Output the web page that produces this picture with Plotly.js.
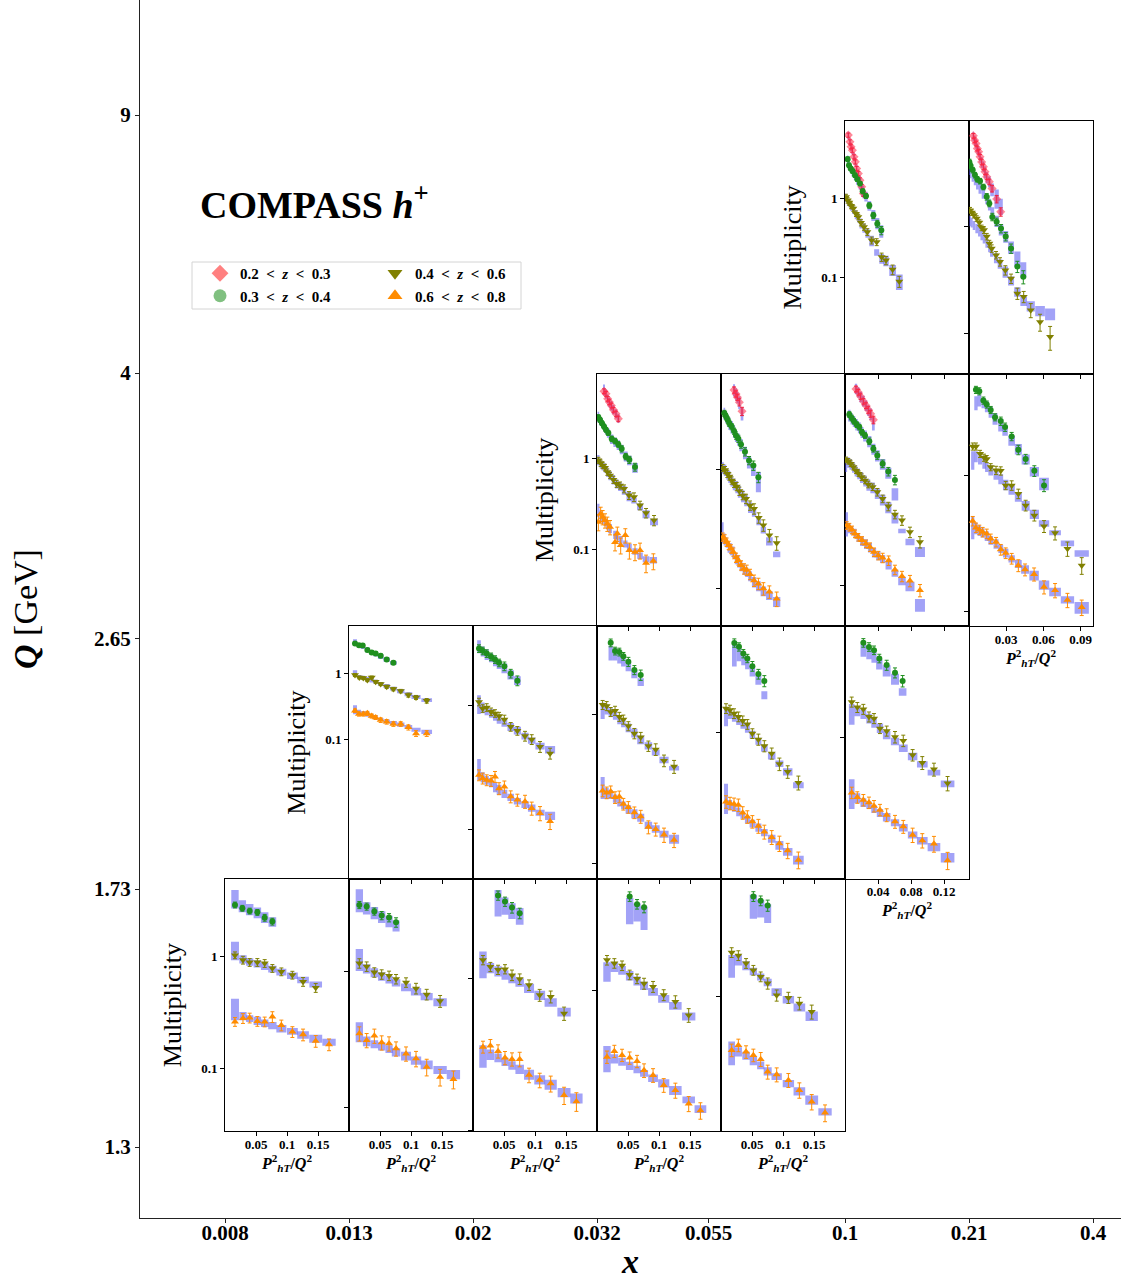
<!DOCTYPE html>
<html><head><meta charset="utf-8">
<script src="https://cdn.plot.ly/plotly-3.0.1.min.js"></script>
<style>body{margin:0;background:#fff}#chart{width:1121px;height:1284px}</style>
</head><body><div id="chart"></div>
<script>
// Outer axis tick labels
const xBinLabels = ['0.008','0.013','0.02','0.032','0.055','0.1','0.21','0.4'];
const xBinPos = [0,1,2,3,3.9,5,6,7];
const qLabels = ['1.3','1.73','2.65','4','9'];
const qPos = [0,1,1.97,3,4];
const zLabels = {red:'0.2 &lt; <i>z</i> &lt; 0.3', green:'0.3 &lt; <i>z</i> &lt; 0.4', olive:'0.4 &lt; <i>z</i> &lt; 0.6', orange:'0.6 &lt; <i>z</i> &lt; 0.8'};

// Each point: [P_hT^2/Q^2, multiplicity, error %, band low, band high]
const p15_red = [[.0040,6.34,6,5.6,7.0],[.0060,5.21,6,4.6,5.8],[.0073,4.51,6,4.0,5.0],[.0089,4.09,6,3.6,4.5],[.0109,3.37,6,3.0,3.8],[.0125,2.91,6,2.6,3.3],[.0141,2.40,6,2.1,2.7],[.0161,2.07,6,1.8,2.3],[.0181,1.71,7,1.5,1.95],[.0202,1.41,7,1.25,1.65],[.0222,1.16,8,1.0,1.35]];
const p15_green = [[.0032,3.15,7,2.7,3.5],[.0048,2.64,6,2.3,2.9],[.0069,2.40,6,2.1,2.7],[.0093,2.22,6,1.9,2.5],[.0121,1.97,6,1.7,2.2],[.0149,1.76,6,1.5,2.0],[.0181,1.55,6,1.3,1.8],[.0214,1.24,7,1.05,1.45],[.0254,1.08,7,0.92,1.22],[.0294,0.82,8,0.7,0.93],[.0343,0.615,9,0.52,0.72],[.0391,0.483,10,0.41,0.57],[.0439,0.397,12,0.32,0.46]];
const p15_olive = [[.0012,1.05,8,0.9,1.15],[.0032,0.95,8,0.82,1.05],[.0052,0.89,8,0.78,0.98],[.0073,0.81,8,0.7,0.9],[.0101,0.75,8,0.64,0.83],[.0133,0.646,8,0.55,0.72],[.0161,0.586,8,0.5,0.65],[.0193,0.497,9,0.42,0.56],[.023,0.438,9,0.37,0.49],[.027,0.379,10,0.32,0.42],[.0322,0.297,10,0.25,0.34],[.0383,0.283,10,0.19,0.23],[.0443,0.183,12,0.15,0.2],[.0496,0.166,12,0.14,0.19],[.0576,0.127,14,0.105,0.145],[.0657,0.09,16,0.07,0.11]];

const p16_red = [[.0035,6.95,5,6.2,7.6],[.0046,6.32,5,5.6,7.0],[.0057,5.89,5,5.2,6.5],[.0067,5.29,5,4.7,5.9],[.0078,4.93,5,4.4,5.5],[.0089,4.43,5,3.9,4.9],[.0102,3.97,6,3.5,4.4],[.0116,3.57,6,3.2,4.0],[.0129,3.21,6,2.8,3.6],[.0143,2.88,6,2.5,3.2],[.0164,2.59,6,2.3,2.9],[.0186,2.24,7,1.9,2.5],[.0223,1.79,8,1.45,2.2],[.0256,1.36,9,1.27,1.8]];
const p16_green = [[.0003,3.97,6,3.0,3.9],[.0013,3.65,6,2.8,3.6],[.003,3.33,6,2.6,3.3],[.0048,2.99,6,2.4,3.0],[.0067,2.74,6,2.2,2.8],[.0089,2.63,6,2.0,2.6],[.0116,2.32,6,1.8,2.3],[.0143,1.88,7,1.6,2.0],[.0164,1.63,7,1.4,1.8],[.0188,1.22,8,1.15,1.5],[.0223,1.10,8,0.98,1.25],[.0258,0.95,9,0.82,1.05],[.0296,0.80,9,0.7,0.9],[.0339,0.62,10,0.55,0.72],[.039,0.42,12,0.42,0.58],[.0438,0.337,14,0.33,0.46]];
const p16_olive = [[.0008,1.41,6,1.0,1.25],[.0022,1.34,6,0.97,1.2],[.004,1.27,6,0.92,1.12],[.0062,1.18,6,0.86,1.05],[.0083,1.08,6,0.8,0.98],[.0102,0.965,6,0.74,0.9],[.0121,0.92,7,0.69,0.84],[.0143,0.80,7,0.63,0.77],[.0164,0.69,7,0.57,0.7],[.0183,0.62,8,0.52,0.64],[.0218,0.537,8,0.45,0.56],[.025,0.466,9,0.4,0.49],[.0293,0.389,10,0.33,0.42],[.0339,0.325,10,0.28,0.34],[.039,0.236,12,0.22,0.27],[.0441,0.22,12,0.18,0.22],[.0498,0.165,15,0.16,0.2],[.0573,0.128,18,0.145,0.18],[.0654,0.093,25,0.133,0.171]];

const p23_red = [[.0113,5.57,6,5.0,6.6],[.0145,5.21,6,4.6,5.8],[.0172,4.59,6,4.1,5.1],[.0199,4.22,6,3.7,4.7],[.0231,3.87,6,3.4,4.3],[.0264,3.47,6,3.1,3.9],[.0307,3.13,7,2.8,3.5],[.0344,2.76,7,2.5,3.1]];
const p23_green = [[.0022,2.88,6,2.5,3.3],[.0048,2.69,6,2.35,3.0],[.0081,2.47,6,2.2,2.8],[.0113,2.27,6,2.0,2.55],[.0145,2.09,6,1.85,2.35],[.0183,1.92,6,1.7,2.15],[.0237,1.66,7,1.45,1.85],[.0291,1.57,7,1.35,1.72],[.0344,1.44,7,1.25,1.6],[.0398,1.29,8,1.12,1.43],[.0463,1.06,8,0.93,1.2],[.0522,0.975,9,0.85,1.08],[.0613,0.81,10,0.7,0.9]];
const p23_olive = [[.0022,0.96,8,0.85,1.1],[.0059,0.895,8,0.78,1.0],[.0091,0.844,8,0.74,0.94],[.0129,0.796,8,0.7,0.89],[.0167,0.713,8,0.63,0.8],[.021,0.655,8,0.58,0.73],[.0264,0.587,9,0.52,0.66],[.0317,0.53,9,0.47,0.59],[.0371,0.508,9,0.44,0.55],[.0436,0.467,10,0.4,0.5],[.0516,0.394,10,0.34,0.43],[.0597,0.378,11,0.32,0.37],[.0694,0.306,11,0.27,0.32],[.0791,0.252,12,0.22,0.27],[.092,0.209,13,0.184,0.218]];
const p23_orange = [[.0022,0.2,20,0.227,0.319],[.0059,0.247,18,0.2,0.27],[.0091,0.227,18,0.19,0.25],[.0129,0.209,18,0.18,0.23],[.0167,0.192,18,0.165,0.21],[.021,0.176,18,0.15,0.19],[.0291,0.12,20,0.13,0.16],[.0328,0.149,18,0.125,0.15],[.0382,0.111,20,0.115,0.14],[.0457,0.143,18,0.105,0.125],[.0522,0.0975,20,0.095,0.115],[.0613,0.0935,20,0.087,0.103],[.0694,0.0975,20,0.078,0.092],[.0791,0.0707,22,0.072,0.084],[.0909,0.0743,20,0.0695,0.082]];

const p24_red = [[.021,4.65,6,4.1,5.2],[.0242,4.31,6,3.8,4.8],[.0264,4.04,6,3.6,4.5],[.0296,3.67,7,3.2,4.1],[.0339,3.08,8,2.58,3.33]];
const p24_green = [[.0054,2.96,6,2.6,3.3],[.0081,2.78,6,2.45,3.1],[.0108,2.61,6,2.3,2.9],[.0134,2.44,6,2.15,2.75],[.0172,2.29,6,2.0,2.55],[.021,2.10,6,1.85,2.35],[.0242,1.93,7,1.7,2.15],[.028,1.81,7,1.58,2.0],[.0323,1.62,7,1.42,1.8],[.0387,1.41,8,1.22,1.55],[.0452,1.19,8,1.02,1.3],[.0522,1.08,9,0.88,1.08],[.0603,0.86,10,0.645,0.95]];
const p24_olive = [[.0027,1.03,7,0.92,1.15],[.0065,0.99,7,0.88,1.1],[.0102,0.92,7,0.82,1.02],[.0134,0.874,7,0.77,0.97],[.0172,0.809,7,0.72,0.9],[.021,0.758,7,0.67,0.84],[.0253,0.721,8,0.63,0.8],[.0296,0.658,8,0.58,0.73],[.035,0.605,8,0.53,0.67],[.0404,0.568,9,0.49,0.61],[.0468,0.499,9,0.43,0.53],[.0533,0.468,10,0.4,0.46],[.0608,0.393,10,0.34,0.39],[.0683,0.34,11,0.29,0.33],[.078,0.28,12,0.23,0.27],[.0898,0.241,13,0.183,0.205]];
const p24_orange = [[.0027,0.271,8,0.24,0.36],[.0059,0.262,8,0.23,0.29],[.0091,0.246,8,0.22,0.27],[.0124,0.231,8,0.2,0.25],[.0161,0.216,8,0.19,0.24],[.0199,0.203,8,0.18,0.225],[.0242,0.182,9,0.16,0.2],[.028,0.173,9,0.15,0.19],[.0323,0.157,9,0.14,0.17],[.0371,0.147,10,0.13,0.16],[.0414,0.143,10,0.125,0.15],[.0468,0.132,10,0.115,0.14],[.0533,0.117,11,0.102,0.125],[.0603,0.11,11,0.095,0.115],[.0683,0.10,12,0.086,0.104],[.078,0.094,12,0.08,0.095],[.0898,0.082,14,0.07,0.085]];

const p25_red = [[.0133,6.37,6,5.7,7.1],[.0161,5.94,6,5.3,6.6],[.0189,5.42,6,4.8,6.0],[.0222,4.91,6,4.4,5.5],[.0254,4.48,6,4.0,5.0],[.0282,4.09,7,3.6,4.5],[.031,3.76,7,3.3,4.2],[.0343,3.31,8,2.64,3.5]];
const p25_green = [[.0052,3.71,6,3.2,4.1],[.0081,3.45,6,3.0,3.8],[.0109,3.22,6,2.85,3.6],[.0141,3.0,6,2.65,3.35],[.0173,2.84,6,2.5,3.15],[.0206,2.55,6,2.25,2.85],[.0242,2.38,6,2.1,2.65],[.0294,2.11,7,1.85,2.35],[.0343,1.80,7,1.58,2.0],[.0391,1.56,8,1.37,1.74],[.0455,1.31,8,1.15,1.45],[.0524,1.11,9,0.95,1.2],[.0604,0.93,10,0.6,0.78]];
const p25_olive = [[.0012,1.42,6,1.1,1.5],[.004,1.38,6,1.2,1.5],[.0069,1.31,6,1.15,1.45],[.0101,1.22,6,1.08,1.36],[.0133,1.13,6,1.0,1.26],[.0165,1.06,6,0.94,1.18],[.0201,0.986,7,0.87,1.1],[.0242,0.92,7,0.81,1.02],[.0282,0.845,7,0.74,0.94],[.0334,0.798,7,0.7,0.88],[.0391,0.718,8,0.62,0.78],[.0455,0.624,8,0.54,0.68],[.0524,0.531,9,0.46,0.58],[.0604,0.448,9,0.37,0.45],[.0689,0.395,10,0.3,0.33],[.0786,0.308,11,0.233,0.268],[.0907,0.25,12,0.182,0.225]];
const p25_orange = [[.002,0.355,8,0.28,0.47],[.0052,0.343,8,0.3,0.37],[.0085,0.324,8,0.29,0.35],[.0121,0.298,8,0.27,0.33],[.0161,0.277,8,0.25,0.3],[.0206,0.259,8,0.23,0.28],[.0254,0.241,8,0.215,0.265],[.0302,0.225,9,0.2,0.245],[.0351,0.202,9,0.18,0.22],[.0403,0.188,9,0.17,0.205],[.0455,0.179,10,0.16,0.19],[.0528,0.169,10,0.14,0.165],[.0604,0.139,10,0.12,0.14],[.0689,0.121,11,0.1,0.12],[.0786,0.11,12,0.088,0.108],[.0907,0.09,13,0.057,0.075]];

const p26_green = [[.0056,4.24,6,3.0,3.8],[.0083,4.14,6,3.2,3.9],[.0116,3.54,6,3.1,3.7],[.0143,3.31,6,2.9,3.5],[.0175,3.02,6,2.65,3.2],[.021,2.67,6,2.35,2.85],[.0256,2.50,7,2.1,2.6],[.0291,2.26,7,1.95,2.3],[.0344,1.93,7,1.65,1.95],[.0398,1.54,8,1.42,1.7],[.0457,1.32,8,1.2,1.42],[.0527,1.08,9,0.98,1.15],[.0605,0.845,10,0.78,0.96]];
const p26_olive = [[.003,1.63,6,1.1,1.5],[.0056,1.63,6,1.25,1.5],[.0089,1.44,6,1.2,1.4],[.0121,1.35,6,1.12,1.32],[.0143,1.32,6,1.06,1.25],[.0175,1.15,6,1.0,1.18],[.0218,1.09,7,0.93,1.1],[.0256,1.08,7,0.86,1.02],[.0296,0.845,7,0.78,0.93],[.0344,0.845,8,0.72,0.85],[.0398,0.734,8,0.64,0.75],[.0457,0.603,9,0.55,0.65],[.0527,0.509,9,0.48,0.56],[.0605,0.424,10,0.42,0.47],[.0694,0.378,11,0.364,0.396],[.0794,0.29,12,0.302,0.334],[.0909,0.219,14,0.253,0.283]];
const p26_orange = [[.003,0.463,8,0.34,0.5],[.0056,0.414,8,0.37,0.45],[.0083,0.40,8,0.36,0.43],[.011,0.385,8,0.35,0.41],[.0143,0.374,8,0.33,0.39],[.0175,0.344,8,0.31,0.36],[.0218,0.325,8,0.29,0.34],[.0256,0.286,9,0.27,0.31],[.0296,0.27,9,0.25,0.29],[.0344,0.246,9,0.23,0.26],[.0398,0.219,10,0.21,0.24],[.0452,0.204,10,0.19,0.22],[.0525,0.189,11,0.17,0.2],[.0605,0.152,11,0.145,0.17],[.0694,0.144,12,0.13,0.15],[.0794,0.122,12,0.115,0.13],[.0909,0.108,13,0.097,0.118]];

const p31_green = [[.0097,2.85,5,2.7,3.3],[.0161,2.69,5,2.45,2.9],[.0221,2.66,5,2.35,2.75],[.0296,2.26,5,2.1,2.5],[.0366,2.08,5,1.9,2.25],[.043,2.01,5,1.8,2.1],[.0511,1.85,6,1.65,1.95],[.0608,1.63,6,1.5,1.75],[.0716,1.45,6,1.35,1.55]];
const p31_olive = [[.0097,0.944,5,0.88,1.12],[.0167,0.87,5,0.82,0.95],[.0231,0.85,5,0.8,0.92],[.0296,0.792,5,0.76,0.88],[.0366,0.87,5,0.73,0.84],[.043,0.748,5,0.7,0.8],[.0511,0.689,5,0.65,0.74],[.0608,0.628,6,0.6,0.69],[.0716,0.579,6,0.55,0.63],[.0834,0.54,6,0.5,0.58],[.0958,0.47,7,0.45,0.52],[.1081,0.433,7,0.41,0.47],[.1253,0.385,8,0.37,0.42]];
const p31_orange = [[.0097,0.272,6,0.24,0.33],[.0161,0.242,7,0.24,0.28],[.0231,0.242,7,0.23,0.27],[.0296,0.248,7,0.22,0.26],[.0366,0.226,7,0.21,0.24],[.043,0.215,7,0.2,0.23],[.0511,0.196,8,0.19,0.21],[.0608,0.185,8,0.175,0.2],[.0716,0.171,8,0.165,0.19],[.0834,0.171,8,0.155,0.18],[.0958,0.152,9,0.145,0.165],[.1081,0.123,10,0.13,0.15],[.1253,0.123,10,0.12,0.14]];

const p32_green = [[.0097,2.84,7,2.6,3.3],[.0156,2.72,7,2.45,2.95],[.0221,2.59,7,2.3,2.8],[.0291,2.44,7,2.2,2.6],[.0355,2.32,7,2.05,2.45],[.042,2.18,7,1.95,2.3],[.0506,2.05,8,1.8,2.15],[.0608,1.79,8,1.6,1.9],[.0716,1.57,9,1.45,1.7]];
const p32_olive = [[.0097,1.06,7,0.85,1.2],[.0156,0.94,7,0.86,1.05],[.0221,0.958,7,0.83,0.98],[.0291,0.885,7,0.79,0.93],[.0355,0.858,7,0.75,0.88],[.042,0.817,7,0.71,0.84],[.0506,0.768,8,0.67,0.78],[.0608,0.671,8,0.62,0.72],[.0716,0.623,8,0.58,0.67],[.0839,0.565,9,0.53,0.6],[.0947,0.531,9,0.49,0.55],[.1081,0.464,10,0.44,0.5],[.1243,0.41,10,0.41,0.47]];
const p32_orange = [[.0097,0.275,10,0.25,0.37],[.0156,0.259,10,0.24,0.29],[.0221,0.251,10,0.23,0.27],[.0291,0.248,10,0.22,0.26],[.0355,0.267,10,0.2,0.24],[.042,0.215,11,0.19,0.23],[.0506,0.222,11,0.18,0.21],[.0608,0.185,11,0.17,0.195],[.0716,0.174,11,0.16,0.18],[.0839,0.169,12,0.15,0.17],[.0947,0.149,12,0.14,0.16],[.1081,0.136,13,0.13,0.145],[.1243,0.117,14,0.12,0.14]];

const p33_green = [[.0221,3.03,6,2.3,2.9],[.0291,2.67,6,2.3,2.8],[.036,2.63,6,2.2,2.6],[.0425,2.46,6,2.1,2.45],[.0506,2.26,7,1.95,2.25],[.0603,1.99,7,1.75,2.0],[.0705,1.84,8,1.55,1.75]];
const p33_olive = [[.0091,1.16,7,0.93,1.2],[.0156,1.14,7,1.0,1.17],[.0221,1.04,7,0.96,1.1],[.0291,1.06,7,0.92,1.04],[.036,0.965,7,0.86,0.98],[.0425,0.925,7,0.82,0.93],[.0506,0.835,7,0.76,0.87],[.0603,0.745,8,0.7,0.8],[.0705,0.701,8,0.63,0.72],[.0829,0.613,8,0.58,0.65],[.0947,0.582,9,0.53,0.58],[.1081,0.489,9,0.47,0.52],[.1243,0.446,10,0.42,0.45]];
const p33_orange = [[.0091,0.307,9,0.27,0.38],[.0156,0.298,9,0.27,0.32],[.0221,0.303,9,0.27,0.31],[.0291,0.277,9,0.255,0.29],[.036,0.28,9,0.24,0.27],[.0425,0.25,9,0.23,0.26],[.0506,0.238,9,0.215,0.245],[.0603,0.219,9,0.2,0.23],[.0705,0.206,10,0.19,0.215],[.0829,0.175,10,0.17,0.19],[.0947,0.169,10,0.16,0.18],[.1081,0.155,11,0.148,0.165],[.1243,0.143,11,0.135,0.155]];

const p34_green = [[.0215,3.65,6,2.6,3.6],[.029,3.45,6,2.8,3.4],[.036,3.13,6,2.65,3.1],[.0425,2.92,6,2.5,2.9],[.0506,2.61,7,2.25,2.6],[.0603,2.33,7,2.0,2.35],[.0699,2.11,8,1.62,1.82]];
const p34_olive = [[.0081,1.42,7,1.1,1.42],[.0145,1.39,7,1.22,1.4],[.021,1.32,7,1.17,1.33],[.028,1.26,7,1.12,1.27],[.035,1.19,7,1.06,1.2],[.0425,1.13,7,1.0,1.13],[.0506,0.99,7,0.92,1.03],[.0603,0.908,8,0.84,0.93],[.0699,0.826,8,0.76,0.84],[.0818,0.743,8,0.68,0.75],[.0942,0.637,9,0.61,0.67],[.1076,0.57,9,0.54,0.6],[.1248,0.487,10,0.45,0.49]];
const p34_orange = [[.0081,0.37,9,0.31,0.48],[.0145,0.362,9,0.33,0.38],[.021,0.358,9,0.32,0.36],[.028,0.353,9,0.3,0.34],[.035,0.316,9,0.29,0.32],[.0425,0.298,9,0.27,0.3],[.0506,0.278,9,0.255,0.285],[.0603,0.261,10,0.24,0.27],[.0699,0.24,10,0.225,0.25],[.0818,0.222,10,0.205,0.23],[.0942,0.203,11,0.185,0.21],[.1076,0.183,11,0.17,0.19],[.1248,0.16,12,0.15,0.17]];

const p35_green = [[.0222,3.77,6,3.1,3.7],[.029,3.56,6,3.0,3.5],[.0351,3.40,6,2.85,3.3],[.0415,3.03,6,2.6,3.0],[.0504,2.76,7,2.35,2.75],[.0605,2.48,7,2.1,2.45],[.0697,2.21,8,1.8,2.0]];
const p35_olive = [[.0081,1.65,7,1.2,1.6],[.0149,1.53,7,1.35,1.55],[.0222,1.49,7,1.3,1.48],[.029,1.34,7,1.22,1.4],[.0351,1.31,7,1.15,1.32],[.0423,1.14,7,1.07,1.22],[.0504,1.10,7,0.98,1.1],[.0605,1.01,8,0.9,1.0],[.0705,0.96,8,0.82,0.91],[.0818,0.785,8,0.73,0.81],[.0935,0.705,9,0.66,0.72],[.1076,0.643,9,0.59,0.64],[.1241,0.529,10,0.5,0.55]];
const p35_orange = [[.0081,0.464,8,0.37,0.56],[.0149,0.435,8,0.4,0.46],[.0222,0.419,8,0.38,0.43],[.029,0.404,8,0.37,0.41],[.0351,0.385,8,0.35,0.39],[.0423,0.365,8,0.33,0.37],[.0504,0.34,9,0.31,0.35],[.0605,0.31,9,0.29,0.32],[.0705,0.289,9,0.27,0.3],[.0818,0.257,10,0.245,0.27],[.0935,0.238,10,0.225,0.25],[.1076,0.227,11,0.205,0.23],[.1241,0.18,12,0.175,0.2]];

const p40_green = [[.0161,2.90,6,2.7,3.95],[.028,2.71,6,2.5,3.2],[.0398,2.56,6,2.35,2.95],[.0522,2.49,6,2.2,2.75],[.064,2.23,7,2.0,2.5],[.0764,2.06,7,1.85,2.25]];
const p40_olive = [[.0161,1.03,7,0.93,1.36],[.029,0.933,8,0.87,1.03],[.0398,0.89,8,0.83,0.97],[.0522,0.89,8,0.8,0.93],[.064,0.871,8,0.76,0.88],[.0764,0.787,8,0.72,0.83],[.0909,0.734,8,0.68,0.78],[.1087,0.685,8,0.63,0.72],[.1259,0.597,9,0.58,0.66],[.1463,0.527,9,0.53,0.6]];
const p40_orange = [[.0161,0.262,9,0.27,0.42],[.029,0.281,10,0.27,0.32],[.0398,0.284,10,0.26,0.3],[.0522,0.265,10,0.245,0.29],[.064,0.262,10,0.235,0.275],[.0764,0.29,11,0.225,0.26],[.0909,0.244,11,0.21,0.245],[.1087,0.213,11,0.2,0.23],[.1259,0.201,12,0.185,0.215],[.1463,0.176,12,0.17,0.2],[.1678,0.164,12,0.16,0.185]];

const p41_green = [[.0167,3.06,6,2.7,4.0],[.0285,2.98,6,2.6,3.2],[.0409,2.74,6,2.4,2.95],[.0527,2.56,7,2.25,2.75],[.0646,2.47,7,2.1,2.55],[.0759,2.28,8,1.95,2.35]];
const p41_olive = [[.0167,1.14,8,1.0,1.45],[.0285,1.08,8,0.96,1.12],[.0409,0.978,8,0.9,1.05],[.0527,0.945,8,0.85,0.98],[.0646,0.924,8,0.81,0.92],[.0759,0.873,8,0.77,0.87],[.092,0.825,8,0.71,0.81],[.1081,0.745,9,0.66,0.75],[.1253,0.673,9,0.61,0.69],[.1469,0.601,10,0.55,0.63]];
const p41_orange = [[.0167,0.347,12,0.3,0.42],[.0285,0.31,12,0.28,0.33],[.0409,0.334,12,0.27,0.31],[.0527,0.298,12,0.26,0.3],[.0646,0.293,12,0.25,0.285],[.0759,0.269,12,0.235,0.27],[.092,0.247,12,0.22,0.255],[.1081,0.227,13,0.205,0.235],[.1253,0.197,14,0.19,0.22],[.1469,0.166,14,0.175,0.2],[.1684,0.16,15,0.16,0.187]];

const p42_green = [[.0404,3.51,7,2.55,3.82],[.0516,3.20,7,2.62,3.4],[.0629,2.92,8,2.46,3.12],[.0753,2.68,8,2.25,2.9]];
const p42_olive = [[.0161,1.32,7,1.0,1.5],[.028,1.19,7,1.08,1.26],[.0404,1.14,7,1.03,1.2],[.0516,1.15,7,0.98,1.13],[.0629,1.05,8,0.93,1.07],[.0753,0.99,8,0.88,1.0],[.0904,0.904,8,0.8,0.92],[.1076,0.776,9,0.72,0.83],[.1253,0.757,9,0.65,0.74],[.1469,0.588,10,0.56,0.64]];
const p42_orange = [[.0161,0.354,9,0.258,0.363],[.028,0.36,10,0.29,0.34],[.0404,0.332,10,0.28,0.32],[.0516,0.30,10,0.265,0.3],[.0629,0.294,10,0.25,0.285],[.0753,0.294,11,0.235,0.27],[.0904,0.231,11,0.215,0.25],[.1076,0.214,11,0.2,0.23],[.1253,0.203,12,0.185,0.215],[.1469,0.17,13,0.165,0.19],[.1668,0.155,14,0.15,0.175]];

const p43_green = [[.0527,3.94,7,2.62,3.85],[.0646,3.52,7,2.73,3.57],[.0759,3.37,8,2.41,3.4]];
const p43_olive = [[.0161,1.55,7,1.13,1.5],[.028,1.48,7,1.3,1.5],[.0404,1.43,7,1.25,1.42],[.0527,1.25,7,1.15,1.32],[.0646,1.18,7,1.07,1.22],[.0759,1.10,8,1.0,1.13],[.0904,1.05,8,0.92,1.03],[.1076,0.93,8,0.83,0.93],[.1264,0.843,9,0.75,0.84],[.1479,0.692,10,0.64,0.72]];
const p43_orange = [[.0161,0.375,9,0.3,0.44],[.028,0.408,9,0.34,0.39],[.0404,0.385,9,0.33,0.37],[.0527,0.37,9,0.31,0.35],[.0646,0.352,9,0.295,0.33],[.0759,0.308,10,0.28,0.31],[.0904,0.287,10,0.26,0.29],[.1076,0.248,10,0.24,0.27],[.1264,0.23,11,0.215,0.245],[.1479,0.189,11,0.19,0.21],[.1668,0.171,12,0.165,0.185]];

const p44_green = [[.0522,4.18,7,3.03,4.28],[.064,3.93,7,3.09,3.98],[.0753,3.67,8,2.85,3.74]];
const p44_olive = [[.0172,1.87,7,1.3,1.8],[.028,1.79,7,1.55,1.8],[.0404,1.60,7,1.45,1.65],[.0522,1.45,7,1.35,1.5],[.064,1.32,7,1.25,1.38],[.0753,1.20,8,1.15,1.28],[.0898,1.01,8,1.0,1.12],[.1087,0.977,8,0.9,1.0],[.1264,0.90,9,0.8,0.9],[.1463,0.798,10,0.7,0.8]];
const p44_orange = [[.0172,0.46,9,0.37,0.52],[.028,0.494,9,0.42,0.48],[.0404,0.449,9,0.4,0.45],[.0522,0.428,9,0.37,0.42],[.064,0.404,10,0.35,0.39],[.0753,0.337,10,0.32,0.36],[.0898,0.324,10,0.3,0.33],[.1087,0.299,10,0.27,0.3],[.1264,0.259,11,0.24,0.27],[.1463,0.219,11,0.21,0.24],[.1678,0.187,12,0.18,0.2]];

// Panel grid: row (1 = top), column (0 = x bin 0.008-0.013), y range (log10)
const panels = [
  {r:1,c:5,yr:[-2.21,0.98],  s:{red:p15_red, green:p15_green, olive:p15_olive}},
  {r:1,c:6,yr:[-1.374,0.98], s:{red:p16_red, green:p16_green, olive:p16_olive}},
  {r:2,c:3,yr:[-1.849,0.94], s:{red:p23_red, green:p23_green, olive:p23_olive, orange:p23_orange}},
  {r:2,c:4,yr:[-1.316,0.805],s:{red:p24_red, green:p24_green, olive:p24_olive, orange:p24_orange}},
  {r:2,c:5,yr:[-1.376,0.945],s:{red:p25_red, green:p25_green, olive:p25_olive, orange:p25_orange}},
  {r:2,c:6,yr:[-1.105,0.746],s:{green:p26_green, olive:p26_olive, orange:p26_orange}},
  {r:3,c:1,yr:[-3.117,0.717],s:{green:p31_green, olive:p31_olive, orange:p31_orange}},
  {r:3,c:2,yr:[-1.392,0.632],s:{green:p32_green, olive:p32_olive, orange:p32_orange}},
  {r:3,c:3,yr:[-1.105,0.593],s:{green:p33_green, olive:p33_olive, orange:p33_orange}},
  {r:3,c:4,yr:[-0.914,0.667],s:{green:p34_green, olive:p34_olive, orange:p34_orange}},
  {r:3,c:5,yr:[-0.856,0.677],s:{green:p35_green, olive:p35_olive, orange:p35_orange}},
  {r:4,c:0,yr:[-1.562,0.696],s:{green:p40_green, olive:p40_olive, orange:p40_orange}},
  {r:4,c:1,yr:[-1.179,0.678],s:{green:p41_green, olive:p41_olive, orange:p41_orange}},
  {r:4,c:2,yr:[-1.007,0.655],s:{green:p42_green, olive:p42_olive, orange:p42_orange}},
  {r:4,c:3,yr:[-0.9,0.708],  s:{green:p43_green, olive:p43_olive, orange:p43_orange}},
  {r:4,c:4,yr:[-0.844,0.731],s:{green:p44_green, olive:p44_olive, orange:p44_orange}}
];
const colXMax = [0.2,0.2,0.2,0.2,0.2,0.15,0.1];
const colTicks = [[0.05,0.1,0.15],[0.05,0.1,0.15],[0.05,0.1,0.15],[0.05,0.1,0.15],[0.05,0.1,0.15],[0.04,0.08,0.12],[0.03,0.06,0.09]];
const yTicks = [0.1, 1];
const yTickText = ['0.1', '1'];

// ---------- styling / geometry ----------
const SERIF = 'Liberation Serif, Times New Roman, serif';
const W = 1121, H = 1284, ML = 140, MB = 66;
const PW = W - ML, PH = H - MB;
const fx = px => (px - ML) / PW;
const fy = py => (PH - py) / PH;
const COL0 = 225, COLW = 124, ROW0 = 121, ROWH = 252.6;
const BAND = 'rgba(70,70,240,0.5)';
const STY = {
  red:   {sym:'diamond',       col:'rgba(255,40,70,0.55)', err:'rgba(235,20,50,0.9)', size:7, leg:'#ff8080'},
  green: {sym:'circle',        col:'#1f8f1f', err:'#1f8f1f', size:6, leg:'#80c080'},
  olive: {sym:'triangle-down', col:'#808000', err:'#808000', size:7, leg:'#808000'},
  orange:{sym:'triangle-up',   col:'#ff8c00', err:'#ff8c00', size:7, leg:'#ff8c00'}
};

function binWidths(xs){
  return xs.map((x,i)=>{
    const l = i>0 ? x - xs[i-1] : xs[i+1] - x;
    const r = i<xs.length-1 ? xs[i+1] - x : x - xs[i-1];
    return (l + r) / 2;
  });
}

const traces = [];
const layout = {
  width: W, height: H,
  margin: {l:ML, r:0, t:0, b:MB, pad:0},
  paper_bgcolor:'#fff', plot_bgcolor:'rgba(0,0,0,0)',
  barmode:'overlay', showlegend:true,
  font:{family:SERIF, color:'#000'},
  title:{text:'<b>COMPASS <i>h</i><sup>+</sup></b>', font:{family:SERIF, size:38, color:'#000'},
         x:200/W, xref:'container', xanchor:'left', y:1-205/H, yref:'container', yanchor:'middle'},
  xaxis:{domain:[0,1], range:[(ML-COL0)/COLW, (W-COL0)/COLW], tickvals:xBinPos, ticktext:xBinLabels,
         showline:true, linecolor:'#222', linewidth:1, mirror:false, ticks:'outside', ticklen:4, tickcolor:'#222',
         ticklabelstandoff:-8,
         showgrid:false, zeroline:false, tickfont:{family:SERIF, size:21, weight:'bold'},
         title:{text:'<b><i>x</i></b>', font:{family:SERIF, size:34}, standoff:4}},
  yaxis:{domain:[0,1], range:[-(PH-1147)/258, 1147/258], tickvals:qPos, ticktext:qLabels,
         showline:true, linecolor:'#222', linewidth:1, mirror:false, ticks:'outside', ticklen:4, tickcolor:'#222',
         showgrid:false, zeroline:false, tickfont:{family:SERIF, size:21, weight:'bold'},
         title:{text:'<b><i>Q</i></b> [GeV]', font:{family:SERIF, size:34}, standoff:46}},
  legend:{x:fx(200), y:fy(257), xanchor:'left', yanchor:'top', bgcolor:'rgba(0,0,0,0)', borderwidth:0,
          font:{family:SERIF, size:15, weight:'bold'}, tracegroupgap:0},
  legend2:{x:fx(375), y:fy(257), xanchor:'left', yanchor:'top', bgcolor:'rgba(0,0,0,0)', borderwidth:0,
          font:{family:SERIF, size:15, weight:'bold'}, tracegroupgap:0},
  shapes:[{type:'rect', xref:'paper', yref:'paper', x0:fx(192), x1:fx(521), y0:fy(309), y1:fy(262),
           line:{color:'#d4d4d4', width:1}, fillcolor:'#fff', layer:'below'}]
};

// legend entries (drawn on the outer axes, no data)
['red','olive','green','orange'].forEach(k=>{
  traces.push({type:'scatter', mode:'markers', x:[null], y:[null], xaxis:'x', yaxis:'y',
    name:zLabels[k].replace(/ &lt; /g,'\u2002&lt;\u2002'), legend:(k==='red'||k==='green')?'legend':'legend2',
    marker:{symbol:STY[k].sym, color:STY[k].leg, size:13}, hoverinfo:'skip'});
});

// bottom panel of each column, leftmost panel of each row
const bottomRow = {}, leftCol = {};
panels.forEach(p=>{
  bottomRow[p.c] = Math.max(bottomRow[p.c]||0, p.r);
  leftCol[p.r] = Math.min(leftCol[p.r]===undefined?99:leftCol[p.r], p.c);
});

panels.forEach((p,i)=>{
  const n = i + 2;
  const xa = 'xaxis'+n, ya = 'yaxis'+n;
  const x0 = COL0 + COLW*p.c, top = ROW0 + ROWH*(p.r-1);
  const isBottom = bottomRow[p.c] === p.r;
  const isLeft = leftCol[p.r] === p.c;
  layout[xa] = {domain:[fx(x0), fx(x0+COLW)], anchor:'y'+n, range:[0, colXMax[p.c]],
    tickvals:colTicks[p.c], ticktext:colTicks[p.c].map(String), showticklabels:isBottom,
    ticks:'outside', ticklen:4, tickwidth:1, tickcolor:'#000', ticklabelstandoff:-3,
    showline:true, mirror:true, linecolor:'#000', linewidth:1, showgrid:false, zeroline:false,
    tickfont:{family:SERIF, size:13, weight:'bold'}};
  if(isBottom) layout[xa].title = {text:'<i>P</i><sup>2</sup><sub><i>hT</i></sub>/<i>Q</i><sup>2</sup>',
    font:{family:SERIF, size:16, weight:'bold'}, standoff:1};
  layout[ya] = {domain:[fy(top+ROWH), fy(top)], anchor:'x'+n, type:'log', range:p.yr,
    tickvals:yTicks, ticktext:yTickText, showticklabels:isLeft,
    ticks:'outside', ticklen:4, tickwidth:1, tickcolor:'#000',
    showline:true, mirror:true, linecolor:'#000', linewidth:1, showgrid:false, zeroline:false,
    tickfont:{family:SERIF, size:13, weight:'bold'}};
  if(isLeft) layout[ya].title = {text:'Multiplicity', font:{family:SERIF, size:26}, standoff:12};

  Object.keys(p.s).forEach(k=>{
    const d = p.s[k];
    const xs = d.map(q=>q[0]);
    traces.push({type:'bar', x:xs, base:d.map(q=>q[3]), y:d.map(q=>q[4]-q[3]), width:binWidths(xs),
      xaxis:'x'+n, yaxis:'y'+n, marker:{color:BAND, line:{width:0}}, showlegend:false, hoverinfo:'skip'});
  });
  Object.keys(p.s).forEach(k=>{
    const d = p.s[k];
    traces.push({type:'scatter', mode:'markers', x:d.map(q=>q[0]), y:d.map(q=>q[1]),
      error_y:{type:'data', array:d.map(q=>q[1]*q[2]/100), color:STY[k].err, thickness:1, width:2},
      xaxis:'x'+n, yaxis:'y'+n, showlegend:false, hoverinfo:'skip',
      marker:{symbol:STY[k].sym, color:STY[k].col, size:STY[k].size, line:{width:0}}});
  });
});

Plotly.newPlot('chart', traces, layout, {staticPlot:true, displayModeBar:false});
</script></body></html>
